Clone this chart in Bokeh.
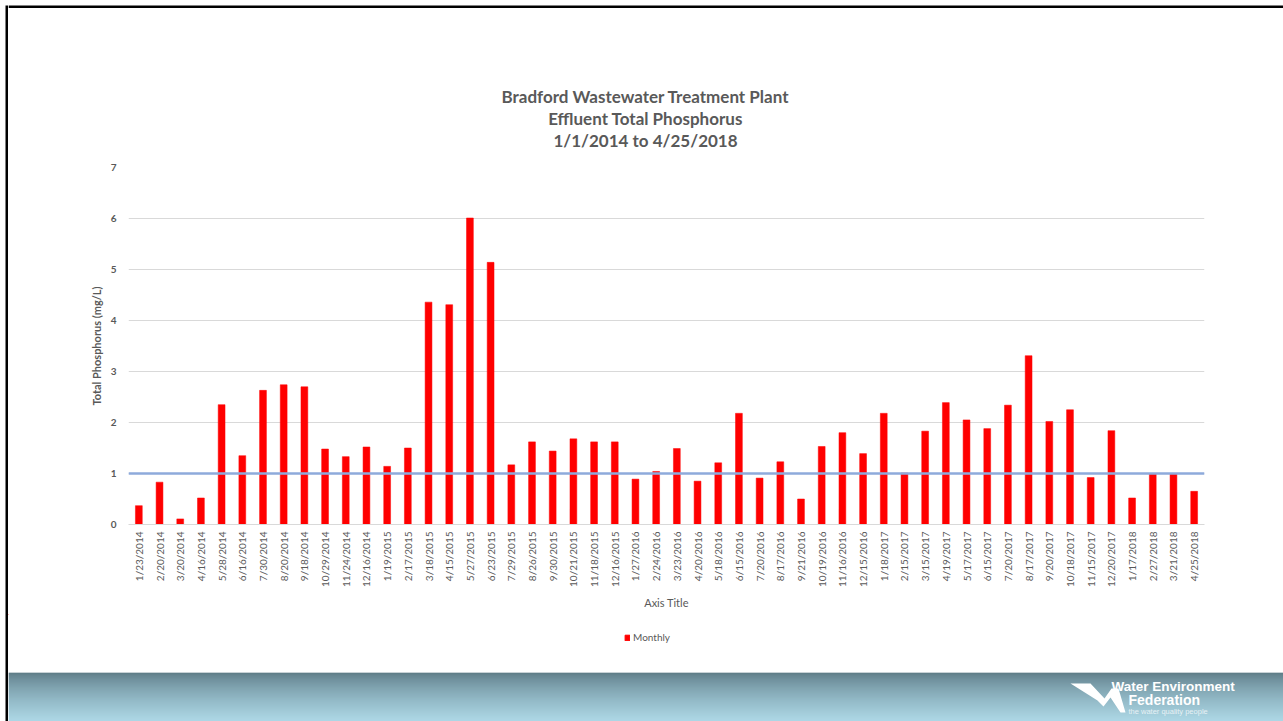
import numpy as np
from bokeh.plotting import figure
from bokeh.models import (FactorRange, Range1d, Span, Legend, LegendItem,
                          ColumnDataSource, FixedTicker)
from bokeh.layouts import column, row
from bokeh.embed import file_html
from bokeh.resources import INLINE
from bokeh.core.properties import value

# ---- data -------------------------------------------------------------
sample_dates = [
    "1/23/2014", "2/20/2014", "3/20/2014", "4/16/2014", "5/28/2014", "6/16/2014",
    "7/30/2014", "8/20/2014", "9/18/2014", "10/29/2014", "11/24/2014", "12/16/2014",
    "1/19/2015", "2/17/2015", "3/18/2015", "4/15/2015", "5/27/2015", "6/23/2015",
    "7/29/2015", "8/26/2015", "9/30/2015", "10/21/2015", "11/18/2015", "12/16/2015",
    "1/27/2016", "2/24/2016", "3/23/2016", "4/20/2016", "5/18/2016", "6/15/2016",
    "7/20/2016", "8/17/2016", "9/21/2016", "10/19/2016", "11/16/2016", "12/15/2016",
    "1/18/2017", "2/15/2017", "3/15/2017", "4/19/2017", "5/17/2017", "6/15/2017",
    "7/20/2017", "8/17/2017", "9/20/2017", "10/18/2017", "11/15/2017", "12/20/2017",
    "1/17/2018", "2/27/2018", "3/21/2018", "4/25/2018",
]
monthly_tp = [
    0.37, 0.83, 0.11, 0.52, 2.35, 1.35,
    2.63, 2.74, 2.70, 1.48, 1.33, 1.52,
    1.14, 1.50, 4.36, 4.31, 6.01, 5.14,
    1.17, 1.62, 1.44, 1.68, 1.62, 1.62,
    0.89, 1.04, 1.49, 0.85, 1.21, 2.18,
    0.91, 1.23, 0.50, 1.53, 1.80, 1.39,
    2.18, 1.01, 1.83, 2.39, 2.05, 1.88,
    2.34, 3.31, 2.02, 2.25, 0.92, 1.84,
    0.52, 0.99, 1.00, 0.65,
]
y_ticks = [0, 1, 2, 3, 4, 5, 6, 7]
tp_limit = 1.0
title_lines = [
    "Bradford Wastewater Treatment Plant",
    "Effluent Total Phosphorus",
    "1/1/2014 to 4/25/2018",
]
series_name = "Monthly"

# ---- page geometry (pixels) ---------------------------------------------
PAGE_W, PAGE_H = 1283, 721
EDGE = 8                      # left strip carrying the slide frame line
HEAD_BOTTOM = 159             # title block ends here
MAIN_BOTTOM = 614             # chart figure ends here
FOOT_BOTTOM = 672             # legend strip ends, banner starts
COL_W = PAGE_W - EDGE
FRAME_L, FRAME_R, FRAME_T, FRAME_B = 128, 1204, 167, 524
TXT = "#595959"
FONT = "Lato"


def no_align(fig):
    try:
        fig.frame_align = False
    except AttributeError:
        pass


def canvas_fig(w, y_top, y_bottom, x0, x1):
    """Figure whose frame fills its whole canvas; data units == page pixels."""
    f = figure(width=w, height=y_bottom - y_top, x_range=Range1d(x0, x1),
               y_range=Range1d(y_bottom, y_top),
               x_axis_location=None, y_axis_location=None,
               output_backend="svg", toolbar_location=None,
               min_border=0, min_border_left=0, min_border_right=0,
               min_border_top=0, min_border_bottom=0)
    f.grid.visible = False
    f.outline_line_color = None
    f.background_fill_color = "white"
    f.border_fill_color = "white"
    no_align(f)
    return f


# ---- left edge strip (slide frame line) ---------------------------------
strip = canvas_fig(EDGE, 0, PAGE_H, 0, EDGE)
strip.quad(left=[5], right=[7.5], top=[5], bottom=[PAGE_H], fill_color="black", line_color=None)

# ---- title block -----------------------------------------------------------
head = canvas_fig(COL_W, 0, HEAD_BOTTOM, EDGE, PAGE_W)
head.quad(left=[EDGE], right=[PAGE_W], top=[5], bottom=[7.5], fill_color="black", line_color=None)
head.text(x=[645] * 3, y=[96, 118, 140], text=title_lines,
          text_font=value(FONT), text_font_size="17px", text_font_style="bold",
          text_color=TXT, text_align="center", text_baseline="middle")

# ---- main chart ------------------------------------------------------------
src = ColumnDataSource(dict(date=sample_dates, tp=monthly_tp))

p = figure(width=COL_W, height=MAIN_BOTTOM - HEAD_BOTTOM,
           x_range=FactorRange(factors=sample_dates, range_padding=0),
           y_range=Range1d(0, 7),
           output_backend="svg", toolbar_location=None,
           min_border_left=FRAME_L - EDGE, min_border_right=PAGE_W - FRAME_R,
           min_border_top=FRAME_T - HEAD_BOTTOM,
           min_border_bottom=MAIN_BOTTOM - FRAME_B)
no_align(p)
p.outline_line_color = None
p.background_fill_color = "white"
p.border_fill_color = "white"

bars = p.vbar(x="date", top="tp", width=0.33, source=src,
              fill_color="#ff0000", line_color="#ff0000", line_width=0.5)

p.add_layout(Span(location=tp_limit, dimension="width",
                  line_color="#8eaadb", line_width=2.5))

p.xgrid.visible = False
p.ygrid.grid_line_color = "#d9d9d9"
p.ygrid.grid_line_width = 1

p.yaxis.ticker = FixedTicker(ticks=y_ticks)
p.yaxis.axis_line_color = None
p.yaxis.major_tick_line_color = None
p.yaxis.major_tick_out = 0
p.yaxis.major_tick_in = 0
p.yaxis.minor_tick_line_color = None
p.yaxis.major_label_standoff = 12
p.yaxis.major_label_text_font = FONT
p.yaxis.major_label_text_font_size = "10px"
p.yaxis.major_label_text_font_style = "bold"
p.yaxis.major_label_text_color = TXT
p.yaxis.axis_label = "Total Phosphorus (mg/L)"
p.yaxis.axis_label_text_font = FONT
p.yaxis.axis_label_text_font_size = "11px"
p.yaxis.axis_label_text_font_style = "bold"
p.yaxis.axis_label_text_color = TXT
p.yaxis.axis_label_standoff = 5

p.xaxis.axis_line_color = "#d9d9d9"
p.xaxis.major_tick_line_color = None
p.xaxis.major_tick_out = 0
p.xaxis.major_tick_in = 0
p.xaxis.minor_tick_line_color = None
p.xaxis.major_label_orientation = np.pi / 2
p.xaxis.major_label_standoff = 7
p.xaxis.major_label_text_font = FONT
p.xaxis.major_label_text_font_size = "10px"
p.xaxis.major_label_text_color = TXT
p.xaxis.axis_label = "Axis Title"
p.xaxis.axis_label_text_font = FONT
p.xaxis.axis_label_text_font_size = "11px"
p.xaxis.axis_label_text_font_style = "normal"
p.xaxis.axis_label_text_color = TXT
p.xaxis.axis_label_standoff = 6

# ---- legend strip ------------------------------------------------------------
foot = canvas_fig(COL_W, MAIN_BOTTOM, FOOT_BOTTOM, EDGE, PAGE_W)
# a single off-canvas bar gives the legend entry its swatch
swatch = foot.vbar(x=[-100], top=[0], bottom=[1], width=6,
                   fill_color="#ff0000", line_color="#ff0000")
LEG_ROW = 12
legend = Legend(items=[LegendItem(label=series_name, renderers=[swatch])],
                location=(624 - EDGE, FOOT_BOTTOM - 637 - LEG_ROW // 2),
                orientation="horizontal",
                glyph_width=6, glyph_height=7, label_standoff=3,
                label_text_font=FONT, label_text_font_size="10px",
                label_text_color=TXT, label_height=LEG_ROW,
                padding=0, margin=0, border_line_color=None,
                background_fill_alpha=0)
foot.add_layout(legend, "center")

# ---- footer banner -----------------------------------------------------------
banner = canvas_fig(COL_W, FOOT_BOTTOM, PAGE_H, EDGE, PAGE_W)
top_rgb = np.array([38, 78, 92])
bot_rgb = np.array([146, 202, 222])
rows_y = np.arange(FOOT_BOTTOM, PAGE_H)
frac = (rows_y - rows_y[0]) / (len(rows_y) - 1)
band_cols = ["#%02x%02x%02x" % tuple(int(round(v)) for v in (top_rgb + (bot_rgb - top_rgb) * f ** 0.7))
             for f in frac]
banner.quad(left=EDGE, right=PAGE_W, top=rows_y, bottom=rows_y + 1,
            fill_color=band_cols, line_color=None)

# WEF logo mark and lettering
banner.patch([1070, 1090, 1104, 1111, 1118, 1125, 1120, 1110, 1103, 1097],
             [683, 683, 698, 688, 688, 712, 712, 697, 706, 700],
             fill_color="white", line_color=None)
banner.text(x=[1111], y=[686], text=["Water Environment"], text_color="white",
            text_font=value("Liberation Sans"), text_font_size="13.5px", text_font_style="bold",
            text_baseline="middle", text_align="left")
banner.text(x=[1128], y=[699.5], text=["Federation"], text_color="white",
            text_font=value("Liberation Sans"), text_font_size="14px", text_font_style="bold",
            text_baseline="middle", text_align="left")
banner.text(x=[1128], y=[710.5], text=["the water quality people"], text_color="white",
            text_alpha=0.75, text_font=value("Liberation Sans"), text_font_size="7.5px",
            text_baseline="middle", text_align="left")

page = row(strip, column(head, p, foot, banner, spacing=0), spacing=0)
open("out.html", "w").write(file_html(page, INLINE))
